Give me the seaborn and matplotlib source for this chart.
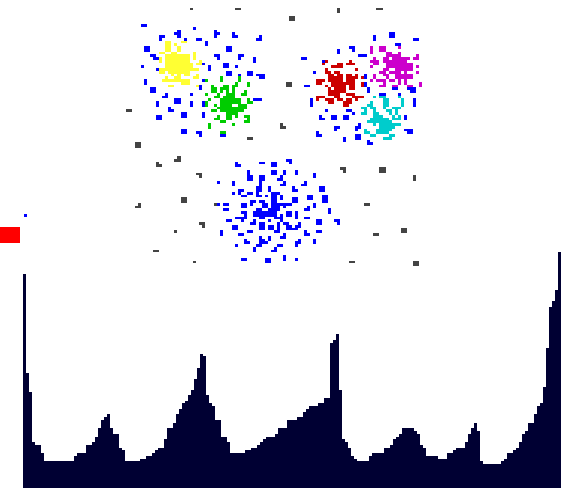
import itertools
import numpy as np
import matplotlib
matplotlib.use("Agg")
import matplotlib.pyplot as plt
from matplotlib.colors import ListedColormap
import seaborn as sns

# bottom histogram, one height per bin
bin_heights = [
    215, 116, 97, 47, 44, 44, 36, 28, 28, 28, 28, 28, 28, 28, 28, 28, 28, 33, 36, 36, 36, 44, 44, 47, 52, 61, 69, 72,
    75, 61, 55, 55, 41, 39, 28, 28, 28, 28, 28, 30, 30, 33, 33, 36, 39, 41, 41, 50, 61, 61, 66, 75, 80, 86, 88, 94,
    99, 110, 121, 135, 133, 94, 86, 83, 69, 69, 52, 52, 47, 36, 36, 36, 36, 36, 39, 39, 41, 41, 44, 47, 50, 52, 52,
    52, 55, 61, 61, 61, 69, 69, 69, 72, 72, 77, 80, 83, 83, 83, 86, 86, 91, 91, 146, 149, 155, 99, 50, 47, 41, 33,
    30, 28, 28, 28, 28, 33, 36, 36, 36,
    36, 41, 41, 44, 50, 52, 55, 61, 61, 61, 61, 58, 55, 44, 41, 33, 33, 33, 33, 30, 30, 30, 36, 36, 39, 41, 41, 41,
    47, 55, 61, 66, 58, 28, 25, 25, 25, 25, 25, 25, 28, 30, 36, 36, 39, 41, 47, 55, 58, 66, 66, 75, 83, 86, 102, 141,
    182, 188, 199, 237,
]

# scatter clusters on a coarse grid: blocks of (columns, rows)
noise_blocks = [
    ([63], [3]), ([78, 79], [3]), ([42, 43], [40]), ([45, 46], [52, 53]), ([82, 83], [50]),
    ([112], [3, 4]), ([125, 126], [3]), ([96, 97], [6, 7]), ([95, 96], [30, 31]), ([93], [45, 46]), ([94], [46]),
    ([59], [57]), ([58, 59], [58]), ([52], [59, 60]), ([53], [60]), ([65, 66], [63]), ([66], [64]),
    ([60, 61], [72, 73]), ([46], [74]), ([45, 46], [75]), ([71], [74]), ([66, 67], [81]), ([67], [82]),
    ([58], [84]), ([51, 52], [91]), ([64], [95]),
    ([126, 127], [61, 62]), ([113, 114], [61]), ([114], [62]), ([137], [64, 65]), ([121, 122], [74]),
    ([133, 134], [83, 84]), ([124, 125], [85]), ([116, 117], [95]), ([137, 138], [95, 96]),
]

blue_blocks = [
    # upper left
    ([47, 48], [9]), ([64], [10]), ([59], [11, 12, 13]), ([58], [12]), ([71], [11, 12, 13]), ([72], [12]),
    ([77], [12, 13]), ([78], [13]), ([53, 54], [13]), ([53], [14]), ([86], [13, 14]), ([85], [14]), ([61], [14]),
    ([65, 66], [14]), ([68], [15, 16]), ([48, 49], [17, 18]), ([75, 76], [17, 18]), ([50, 51], [20]), ([51, 52], [21]),
    ([71, 72], [20]), ([72], [21]), ([79, 80], [20]), ([79], [21]), ([84], [21, 22]), ([67], [23]),
    ([74, 75], [23, 24]), ([47], [24]), ([78], [24]), ([69], [24, 25]), ([52], [25]), ([75, 76], [26, 27]),
    ([82, 83], [26, 27]), ([79], [27]), ([85, 86, 87], [27]), ([86, 87], [28]), ([48], [29, 30]), ([67], [29]),
    ([66], [31, 32]), ([50, 51], [32, 33]), ([55], [34]), ([54, 55], [35]), ([63], [34]), ([58, 59], [36, 37]),
    ([84, 85, 86], [36]), ([52], [37, 38]), ([63], [37, 38]), ([67], [37, 38]), ([56], [39, 40]), ([57], [40]),
    ([60, 61], [41, 42]), ([67], [41, 42]), ([52, 53], [42, 43]), ([60, 61], [47, 48]), ([65, 66], [48]), ([66], [49]),
    ([73, 74], [49]),
    # upper right
    ([129, 130], [12, 13]), ([124], [13, 14]), ([137, 138], [14]), ([131, 132], [16]), ([116, 117], [17]), ([117], [18]),
    ([112], [18, 19]), ([119, 120, 121], [20]), ([100, 101], [21]), ([107], [22]), ([104], [26]), ([121], [27, 28]),
    ([121], [30, 31]), ([101, 102], [31]), ([122], [32, 33]), ([130, 131], [32]), ([136, 137], [32, 33]), ([135], [32]),
    ([126, 127], [34]), ([132], [34]), ([103], [36, 37, 38]), ([137], [36, 37, 38]), ([108], [40]), ([115, 116], [40]),
    ([117], [41]), ([110, 111], [42, 43]), ([114, 115], [42, 43]), ([106], [42, 43]), ([107], [43]), ([134], [42, 43]),
    ([119], [45, 46]), ([118], [46, 47]), ([111, 112], [46]), ([111], [47]), ([134, 135, 136], [47]), ([135, 136], [48]),
    ([105], [48, 49]), ([106], [49]), ([118, 119], [49, 50]), ([114], [50, 51]), ([122], [51, 52]), ([123], [52]),
    # bottom cloud, left part
    ([78], [59]), ([78, 79], [60]), ([86, 87], [59]), ([90, 91], [59, 60]), ([82], [62, 63]), ([82, 83], [64, 65]),
    ([90, 91], [62, 63]), ([86, 87], [64, 65]), ([92], [65]), ([72], [66]), ([86], [66, 67]), ([77], [66, 67]),
    ([85, 86], [68, 69]), ([89], [68, 69]), ([79, 80], [69]), ([79], [70]), ([77], [70]), ([82, 83], [70]), ([85], [70]),
    ([85, 86], [71]), ([80, 81], [71]), ([88], [71]), ([90, 91, 92], [70]), ([90, 91], [71, 72, 73]), ([83, 84], [73]),
    ([83], [74]), ([86, 87], [73]), ([87, 88], [74, 75]), ([80, 81], [74, 75]), ([72], [74]), ([74, 75], [74]),
    ([90, 91, 92], [74, 75]), ([74, 75], [76]), ([85, 86], [76]), ([89, 90, 91, 92], [76]), ([80, 81], [77]),
    (range(84, 92), [77, 78]), ([81], [78, 79]), ([78, 79, 80], [79]), ([86, 87], [79]), ([91, 92], [79]),
    ([75, 76], [80]), ([80], [80]), ([84], [80]), ([89], [80]), ([83, 84], [81]), ([86, 87], [81, 82, 83]),
    ([92], [81, 82, 83]), ([77, 78], [82, 83]), ([89, 90], [82, 83]), ([91, 92], [84]), ([82, 83], [84]), ([73], [84, 85]),
    ([79, 80], [85]), ([86], [86]), ([89], [86, 87]), ([81], [87]), ([86, 87], [87]), ([81, 82], [88]), ([86, 87, 88], [88]),
    ([85, 86], [89]), ([78], [89]), ([92], [89]), ([84], [90, 91]), ([91], [90]), ([90, 91], [91]), ([80, 81], [94]),
    ([88, 89], [94, 95]), ([8], [78]),
    # bottom cloud, right part
    ([95, 96], [58]), ([96], [59]), ([94], [62, 63]), ([98], [62, 63]), ([104], [63, 64]), ([93], [64, 65]), ([94], [66, 67]),
    ([93], [67]), ([101], [66, 67]), ([100], [67]), ([97], [68, 69]), ([98], [69]), ([106, 107], [68, 69]), ([93], [71, 72]),
    ([102, 103], [71, 72]), ([107, 108], [71, 72, 73]), ([97, 98], [72, 73]), ([93, 94, 95, 96], [74]), ([94], [75]),
    ([104], [74, 75]), ([102], [75]), ([101, 102], [76]), ([109], [76, 77]), ([95, 96], [77, 78]), ([98], [77, 78, 79]),
    ([93], [78, 79, 80]), ([101, 102], [79]), ([105, 106], [80, 81]), ([111, 112], [80]), ([112], [81]), ([94, 95], [81]),
    ([99], [81, 82]), ([95, 96], [82, 83]), ([97, 98], [83]), ([98], [82]), ([101], [84, 85]), ([102], [85]),
    ([105, 106], [84]), ([94], [85, 86]), ([93], [86]), ([99], [87, 88]), ([98], [88, 89]), ([104], [87, 88]), ([93], [89]),
    ([94], [93, 94]), ([98], [94]),
]

yellow_blocks = [
    ([55, 56], [15, 16, 17, 18]), ([58], [16]), ([60, 61], [15]), ([59], [17, 18]), ([53, 54], [19]), ([57, 58], [19]),
    ([64], [19, 20, 21]), (range(55, 63), [20, 21, 22]), ([53], [21, 22]), ([66], [22]), (range(55, 64), [23, 24]),
    ([65, 66], [23]), ([53, 54], [25, 26]), (range(55, 66), [25]), (range(56, 63), [26]), ([57, 59, 61, 62, 65], [27]),
    ([55, 58, 59, 64, 65], [28]), (range(54, 63), [29]), ([60, 61, 62], [30]), ([56, 57, 65], [31]),
]

green_blocks = [
    ([68, 73, 79], [29]), ([73, 79], [28]), ([78, 82], [30]), ([70, 74, 75, 77, 78, 82], [31]),
    ([70, 71, 73, 74, 75, 77], [32]), ([70, 71, 73, 75, 77, 81], [33]), ([68, 72, 75, 76, 77, 80, 81], [34]),
    ([71, 72, 74, 75, 76, 77], [35]), ([69, 82], [36]), (range(73, 80), [36, 37]), ([68, 82, 83], [37]),
    ([68, 71, 73, 74, 75, 76, 79, 80, 81], [38]), (range(72, 82), [39]), ([70, 71], [40]), (range(73, 81), [40]),
    (range(75, 79), [41]), ([72, 75, 76, 78, 81, 82], [42]), ([71, 72, 75, 76, 82], [43]), ([73, 74, 81, 82], [44]),
    ([69, 77], [45]), ([69], [46]), ([73, 74], [48]),
]

magenta_blocks = [
    ([123, 126, 127, 132], [17]), ([123, 126, 127], [18]), ([123, 128, 129, 132], [19]), ([128, 129, 130, 131, 132, 138], [20]),
    ([124, 127, 128, 137, 138], [21]), (range(130, 136), [21]), ([123, 124, 125, 127], [22]), (range(128, 135), [22]),
    ([124, 125], [23]), (range(128, 137), [23, 24]), ([123, 138], [24]), ([127, 128], [25]), (range(131, 137), [25]),
    ([126, 127, 129, 130, 131, 132, 134, 138], [26]), ([124, 127, 128], [27]), (range(131, 137), [27, 28]), ([124, 128], [28]),
    ([123, 125, 126, 127, 129, 130, 132, 134], [29]), ([127, 132, 134, 139], [30]), ([126, 127, 130, 131, 135, 136, 139], [31]),
]

red_blocks = [
    ([108, 116], [22]), ([107, 112, 113, 115, 116, 117], [23]), ([110, 111, 112, 113], [24]), ([108, 118], [25]),
    ([108, 109, 111, 112], [26]), ([109, 110, 112, 113, 115, 116, 118], [27]), ([109, 110, 111, 112, 113, 115, 116, 117, 118, 120], [28]),
    ([105, 106, 107, 109, 110, 111, 112, 113, 115, 116, 117], [29]), ([105, 106, 120], [30]), (range(110, 118), [30]),
    ([108, 110, 111, 112, 113, 114, 116, 117, 120], [31]), ([109, 111, 112, 113, 114, 116, 117], [32]), (range(109, 115), [33]),
    ([109, 110, 111, 112, 115, 116, 117], [34]), ([105, 106, 107, 111, 112, 117, 118, 119, 120], [35]),
    ([105, 108, 109, 110, 112, 113, 115, 116, 118], [36]), ([109, 110, 114, 115, 116], [37]), ([114, 115], [38]),
]

cyan_blocks = [
    ([124, 126, 127, 132], [35]), ([127, 128, 133], [36, 37, 38]), ([123], [37]), ([122, 123], [38]),
    ([120, 121, 123, 124, 127, 130, 131, 132], [39]), ([121, 124, 128, 129, 131], [40]), ([120, 121, 124, 125, 129, 131], [41]),
    ([124, 125, 126, 130, 132], [42]), ([123, 124, 125, 126, 127, 128, 130, 131, 132], [43]), (range(122, 130), [44]),
    ([124, 126, 127, 128, 129, 130, 131, 132], [45]), (range(126, 131), [46]), ([121, 125, 126, 127, 128, 129], [47]),
    ([121, 122, 125, 126, 127, 128], [48]), ([123, 124, 129, 130], [49]), ([127, 128, 129], [50]),
]

group_blocks = [noise_blocks, blue_blocks, yellow_blocks, green_blocks, magenta_blocks, red_blocks, cyan_blocks]
group_colors = ["#444444", "#0000ff", "#ffff33", "#00cc00", "#cc00cc", "#cc0000", "#00cccc"]

W, H = 571, 489
CELL_W, CELL_H = 3.015, 2.75
X_SHIFT, Y_SHIFT = -0.4, 0.25

grid = np.full((178, 190), np.nan)
for code, blocks in enumerate(group_blocks):
    for cols, rws in blocks:
        for c, r in itertools.product(cols, rws):
            grid[r, c] = code

fig = plt.figure(figsize=(W / 100, H / 100), dpi=100)

# cell grid fills the whole figure
ax = fig.add_axes([0, 0, 1, 1])
sns.heatmap(grid, cmap=ListedColormap(group_colors), vmin=-0.5, vmax=6.5, cbar=False,
            xticklabels=False, yticklabels=False, linewidths=0, ax=ax)
ax.set_xlim(-X_SHIFT / CELL_W, (W - X_SHIFT) / CELL_W)
ax.set_ylim((H - Y_SHIFT) / CELL_H, -Y_SHIFT / CELL_H)
ax.add_patch(plt.Rectangle((0.13, 82.9), 20 / CELL_W, 16 / CELL_H, color="#ff0000", lw=0, antialiased=False))
ax.axis("off")

# histogram along the bottom
ax_hist = fig.add_axes([23 / W, -1 / H, 538 / W, 237 / H])
sns.barplot(x=list(range(len(bin_heights))), y=bin_heights, color="#000033", saturation=1,
            width=1, linewidth=0, antialiased=False, ax=ax_hist)
ax_hist.set_xlim(-0.5, len(bin_heights) - 0.5)
ax_hist.set_ylim(0, 237)
ax_hist.axis("off")
ax_hist.patch.set_alpha(0)
ax_hist.add_patch(plt.Rectangle((-0.5, -5), len(bin_heights), 5, color="#000033", lw=0, clip_on=False, antialiased=False))

fig.savefig("out.png", dpi=100)
